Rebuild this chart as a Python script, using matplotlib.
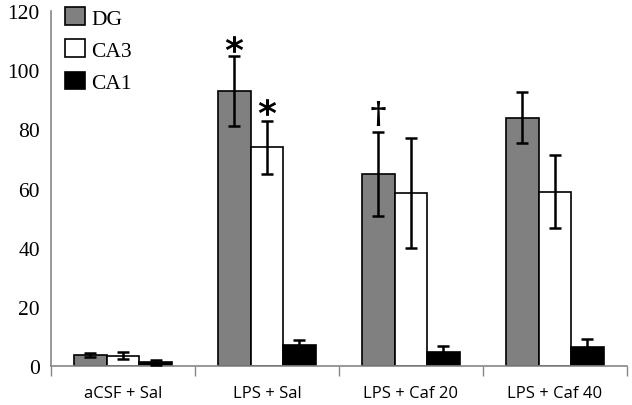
import matplotlib
matplotlib.use("Agg")
import matplotlib.pyplot as plt
import numpy as np
from matplotlib.patches import Patch
from matplotlib.textpath import TextPath
from matplotlib.font_manager import FontProperties
from matplotlib.path import Path

categories = ["aCSF + Sal", "LPS + Sal", "LPS + Caf 20", "LPS + Caf 40"]
series = ["DG", "CA3", "CA1"]
dg = [3.7, 93, 65, 84]
dg_err = [0.8, 11.8, 14.3, 8.5]
ca3 = [3.5, 74, 58.5, 59]
ca3_err = [1.2, 9, 18.5, 12.3]
ca1 = [1.3, 7, 4.8, 6.5]
ca1_err = [0.8, 1.8, 2.0, 2.6]
colors = ["#808080", "#ffffff", "#000000"]
yticks = [0, 20, 40, 60, 80, 100, 120]
# significance marks: (category index, series index, y value, symbol)
marks = [(1, 0, 109, "*"), (1, 1, 87.6, "*"), (2, 0, 85.6, "†")]


def centered_glyph(ch, family, weight="bold"):
    tp = TextPath((0, 0), ch, size=10, prop=FontProperties(family=family, weight=weight))
    v = tp.vertices.copy()
    codes = tp.codes
    ink = codes != Path.CLOSEPOLY
    mn, mx = v[ink].min(axis=0), v[ink].max(axis=0)
    v = v - (mn + mx) / 2
    v[~ink] = 0
    return Path(v, codes)


fig = plt.figure(figsize=(6.32, 4.06), dpi=100)
ax = fig.add_axes([0.0807, 0.096, 0.911, 0.874])

x = np.arange(len(categories))
w = 0.226
vals = [dg, ca3, ca1]
errs = [dg_err, ca3_err, ca1_err]
for i, (v, e, c, name) in enumerate(zip(vals, errs, colors, series)):
    pos = x + (i - 1) * w
    ax.bar(pos, v, width=w, color=c, edgecolor="black", linewidth=1.2, label=name, zorder=2)
    ax.errorbar(pos, v, yerr=e, fmt="none", ecolor="black", elinewidth=1.8,
                capsize=4.5, capthick=1.8, zorder=3)

star = centered_glyph("*", "DejaVu Sans")
dag = centered_glyph("†", "DejaVu Serif")
for ci, si, yv, sym in marks:
    mk = star if sym == "*" else dag
    ms = 12.5 if sym == "*" else 18
    ax.plot([x[ci] + (si - 1) * w], [yv], marker=mk, markersize=ms, color="black",
            markeredgewidth=0, linestyle="none", zorder=4, clip_on=False)

ax.set_xlim(-0.5, len(categories) - 0.5)
ax.set_ylim(0, 120)
ax.set_yticks(yticks)
ax.set_yticklabels([str(t) for t in yticks], family="Liberation Serif", fontsize=15.5)
ax.tick_params(axis="y", length=0, pad=8)
ax.set_xticks(x)
ax.set_xticklabels(categories, family="Open Sans", fontsize=12)
ax.set_xticks(np.arange(len(categories) + 1) - 0.5, minor=True)
ax.tick_params(axis="x", which="major", length=0, pad=14)
ax.tick_params(axis="x", which="minor", length=7, color="#868686", width=1)

for s in ["top", "right"]:
    ax.spines[s].set_visible(False)
for s in ["left", "bottom"]:
    ax.spines[s].set_color("#868686")
    ax.spines[s].set_linewidth(1.2)

handles = [Patch(facecolor=c, edgecolor="black", linewidth=1.2, label=n) for c, n in zip(colors, series)]
leg = ax.legend(handles=handles, loc="upper left", bbox_to_anchor=(0.01, 1.035), frameon=False,
                prop={"family": "Liberation Serif", "size": 15.5}, handlelength=0.9, handleheight=0.9,
                handletextpad=0.3, labelspacing=0.5, borderaxespad=0)

fig.savefig("out.png", dpi=100)
